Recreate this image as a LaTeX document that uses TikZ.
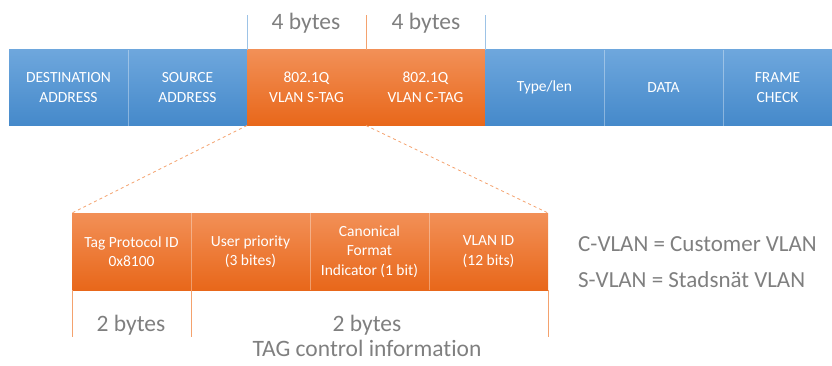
\documentclass[tikz,border=0pt]{standalone}
\usepackage{fontspec}
\setmainfont[RawFeature=-liga]{Carlito}
\usetikzlibrary{positioning}

\definecolor{blueTop}{HTML}{6EA7DD}
\definecolor{blueBot}{HTML}{4589CA}
\definecolor{orangeTop}{HTML}{F29057}
\definecolor{orangeBot}{HTML}{E8671A}
\definecolor{labelGray}{HTML}{7F7F7F}
\definecolor{tickBlue}{HTML}{9DC3E6}
\definecolor{tickOrange}{HTML}{F4A26E}

\begin{document}
\begin{tikzpicture}[x=1pt, y=-1pt, node distance=0pt,
    field/.style = {minimum width=119pt, minimum height=76pt, inner sep=0pt, outer sep=0pt,
                    align=center, text=white, font=\fontsize{15.5}{19.5}\selectfont},
    bluefield/.style = {field, top color=blueTop, bottom color=blueBot},
    orangefield/.style = {field, top color=orangeTop, bottom color=orangeBot},
    sep/.style = {draw=white, opacity=0.35, line width=0.6pt},
    bytes/.style = {text=labelGray, font=\fontsize{23.5}{26}\selectfont, inner sep=0pt},
    legend/.style = {text=labelGray, font=\fontsize{23}{26}\selectfont, inner sep=0pt, anchor=west},
    zoomline/.style = {draw=tickOrange, dashed, line width=0.8pt}]
    \useasboundingbox (0,0) rectangle (832,365);

    % Ethernet frame
    \node[bluefield] (dst) at (68.5,87.5) {DESTINATION\\ADDRESS};
    \node[bluefield, right=of dst] (src) {SOURCE\\ADDRESS};
    \node[orangefield, right=of src] (stag) {802.1Q\\VLAN S-TAG};
    \node[orangefield, right=of stag] (ctag) {802.1Q\\VLAN C-TAG};
    \node[bluefield, right=of ctag] (type) {Type/len};
    \node[bluefield, right=of type] (data) {DATA};
    \node[bluefield, right=of data, minimum width=109pt] (fcs) {FRAME\\CHECK};

    \draw[sep] (src.north west) -- (src.south west);
    \draw[sep] (data.north west) -- (data.south west);
    \draw[sep] (fcs.north west) -- (fcs.south west);

    % tag size markers
    \draw[tickBlue, line width=1pt] (stag.north west) -- ++(0,-35);
    \draw[tickOrange, line width=1pt] (ctag.north west) -- ++(0,-35);
    \draw[tickBlue, line width=1pt] (type.north west) -- ++(0,-35);
    \node[bytes] (sbytes) at (306,23) {4 bytes};
    \node[bytes] (cbytes) at (426,23) {4 bytes};

    % TAG detail
    \node[orangefield, minimum height=77pt] (tpid) at (131.5,251.5) {Tag Protocol ID\\0x8100};
    \node[orangefield, minimum height=77pt, right=of tpid] (prio) {User priority\\(3 bites)};
    \node[orangefield, minimum height=77pt, right=of prio] (cfi) {Canonical\\Format\\Indicator (1 bit)};
    \node[orangefield, minimum height=77pt, right=of cfi] (vid) {VLAN ID\\(12 bits)};

    \draw[sep] (prio.north west) -- (prio.south west);
    \draw[sep] (cfi.north west) -- (cfi.south west);
    \draw[sep] (vid.north west) -- (vid.south west);

    \draw[zoomline] (stag.south west) -- (tpid.north west);
    \draw[zoomline] (stag.south east) -- (vid.north east);

    \draw[tickOrange, line width=0.8pt] (tpid.south west) -- ++(0,47);
    \draw[tickOrange, line width=0.8pt] (prio.south west) -- ++(0,47);
    \draw[tickOrange, line width=0.8pt] (vid.south east) -- ++(0,47);

    \node[bytes] (tpidbytes) at (131,325) {2 bytes};
    \node[bytes] (tcibytes) at (367,325) {2 bytes};
    \node[bytes, below=5pt of tcibytes] (tci) {TAG control information};

    % legend
    \node[legend] (cvlan) at (578,244) {C-VLAN = Customer VLAN};
    \node[legend] (svlan) at (578,280) {S-VLAN = Stadsnät VLAN};
\end{tikzpicture}
\end{document}
